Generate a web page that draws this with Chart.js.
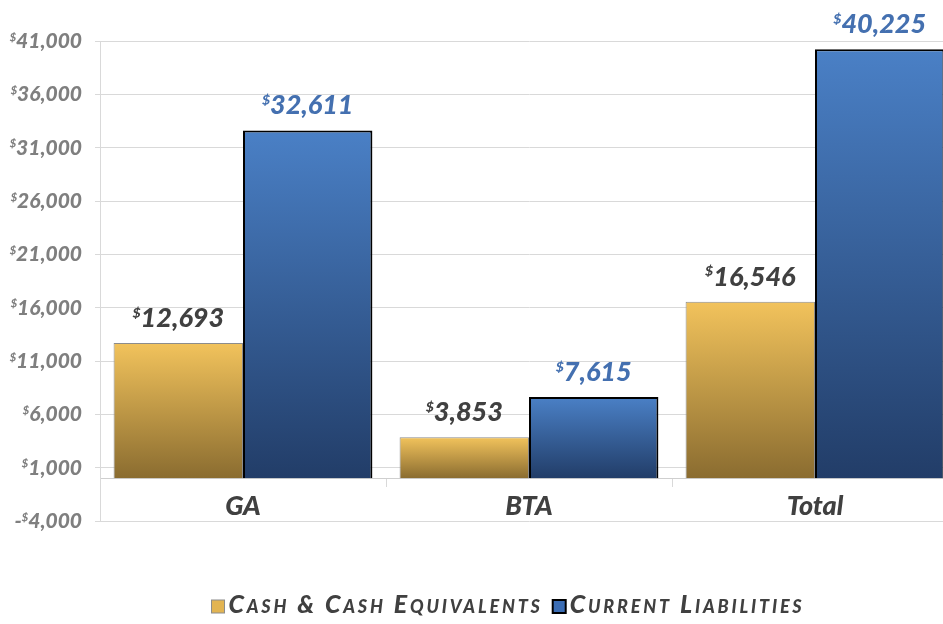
<!DOCTYPE html>
<html>
<head>
<meta charset="utf-8">
<script src="https://cdn.jsdelivr.net/npm/chart.js@4.4.0/dist/chart.umd.min.js"></script>
<style>
    html, body { margin: 0; padding: 0; overflow: hidden; background: #fff; }
    #wrap { width: 958px; height: 624px; }
</style>
</head>
<body>
<div id="wrap"><canvas id="finChart"></canvas></div>
<script>
const categories = ['GA', 'BTA', 'Total'];
const cashValues = [12693, 3853, 16546];
const liabilityValues = [32611, 7615, 40225];
const seriesNames = ['Cash & Cash Equivalents', 'Current Liabilities'];
const yMin = -4000, yMax = 41000, yStep = 5000;

const FAMILY = 'Lato, "Liberation Sans", sans-serif';
const goldStops = ['#F2C35C', '#8A6C30'];
const blueStops = ['#4A80C6', '#223D68'];
const labelColors = ['#404040', '#4470B0'];

function barGradient(stops) {
    return (context) => {
        const chart = context.chart;
        if (!chart.chartArea || context.raw === undefined) return stops[0];
        const y = chart.scales.y;
        const top = y.getPixelForValue(context.raw);
        const bottom = y.getPixelForValue(0);
        const g = chart.ctx.createLinearGradient(0, top, 0, bottom);
        g.addColorStop(0, stops[0]);
        g.addColorStop(1, stops[1]);
        return g;
    };
}

// draws "$12,345" with a small raised dollar sign
function drawMoney(ctx, value, x, baseline, align, size, color) {
    const small = Math.round(size * 0.5);
    const big = `italic 900 ${size}px ${FAMILY}`;
    const sm = `italic 900 ${small}px ${FAMILY}`;
    const sign = value < 0 ? '-' : '';
    const num = Math.abs(value).toLocaleString('en-US');
    ctx.font = big;
    const wSign = ctx.measureText(sign).width;
    const wNum = ctx.measureText(num).width;
    ctx.font = sm;
    const wDol = ctx.measureText('$').width;
    const total = wSign + wDol + wNum;
    let sx = align === 'right' ? x - total : x - total / 2;
    ctx.fillStyle = color;
    ctx.textAlign = 'left';
    ctx.textBaseline = 'alphabetic';
    ctx.font = big;
    ctx.fillText(sign, sx, baseline);
    sx += wSign;
    ctx.font = sm;
    ctx.fillText('$', sx, baseline - size * 0.72 + small * 0.72);
    sx += wDol;
    ctx.font = big;
    ctx.fillText(num, sx, baseline);
}

const moneyLabels = {
    id: 'moneyLabels',
    afterDatasetsDraw(chart) {
        const ctx = chart.ctx;
        ctx.save();
        chart.data.datasets.forEach((ds, i) => {
            chart.getDatasetMeta(i).data.forEach((bar, j) => {
                drawMoney(ctx, ds.data[j], bar.x, bar.y - 16, 'center', 27, labelColors[i]);
            });
        });
        ctx.restore();
    },
    afterDraw(chart) {
        const ctx = chart.ctx;
        const yScale = chart.scales.y;
        ctx.save();
        yScale.ticks.forEach(t => {
            const py = yScale.getPixelForValue(t.value);
            drawMoney(ctx, t.value, 82, py + 7, 'right', 21, '#7F7F7F');
        });

        // legend
        const items = [
            { text: seriesNames[0], fill: '#E2B452', stroke: '#8C8C8C', lw: 1 },
            { text: seriesNames[1], fill: '#3B6DB4', stroke: '#000', lw: 2 }
        ];
        ctx.font = `italic small-caps 900 25px ${FAMILY}`;
        ctx.letterSpacing = '2.8px';
        const box = 13, gapBox = 4, gapItem = 10;
        let total = 0;
        items.forEach(it => { it.w = ctx.measureText(it.text).width; total += box + gapBox + it.w; });
        total += gapItem;
        let lx = 508 - total / 2;
        const baseline = 613;
        items.forEach(it => {
            ctx.fillStyle = it.fill;
            ctx.fillRect(lx, baseline - 13, box, box);
            ctx.lineWidth = it.lw;
            ctx.strokeStyle = it.stroke;
            ctx.strokeRect(lx, baseline - 13, box, box);
            lx += box + gapBox;
            ctx.fillStyle = '#404040';
            ctx.textAlign = 'left';
            ctx.textBaseline = 'alphabetic';
            ctx.fillText(it.text, lx, baseline);
            lx += it.w + gapItem;
        });
        ctx.restore();
    }
};

new Chart(document.getElementById('finChart'), {
    type: 'bar',
    data: {
        labels: categories,
        datasets: [
            {
                label: seriesNames[0],
                data: cashValues,
                backgroundColor: barGradient(goldStops),
                borderColor: '#8C8C8C',
                borderWidth: 1,
                categoryPercentage: 0.905,
                barPercentage: 1
            },
            {
                label: seriesNames[1],
                data: liabilityValues,
                backgroundColor: barGradient(blueStops),
                borderColor: '#000000',
                borderWidth: 2,
                categoryPercentage: 0.905,
                barPercentage: 1
            }
        ]
    },
    options: {
        responsive: true,
        maintainAspectRatio: false,
        animation: false,
        layout: { padding: { top: 41, bottom: 103, left: 0, right: 0 } },
        plugins: {
            legend: { display: false },
            tooltip: { enabled: false }
        },
        scales: {
            x: {
                position: { y: 0 },
                grid: { drawOnChartArea: false, tickLength: 8, color: '#D9D9D9' },
                border: { color: '#CFCFCF' },
                ticks: {
                    color: '#404040',
                    padding: 4,
                    font: { family: FAMILY, size: 27, style: 'italic', weight: '900' }
                }
            },
            y: {
                min: yMin,
                max: yMax,
                afterFit: (scale) => { scale.width = 100; },
                ticks: { stepSize: yStep, display: false },
                grid: { color: '#D9D9D9', tickLength: 5 },
                border: { color: '#D9D9D9' }
            }
        }
    },
    plugins: [moneyLabels]
});
</script>
</body>
</html>
